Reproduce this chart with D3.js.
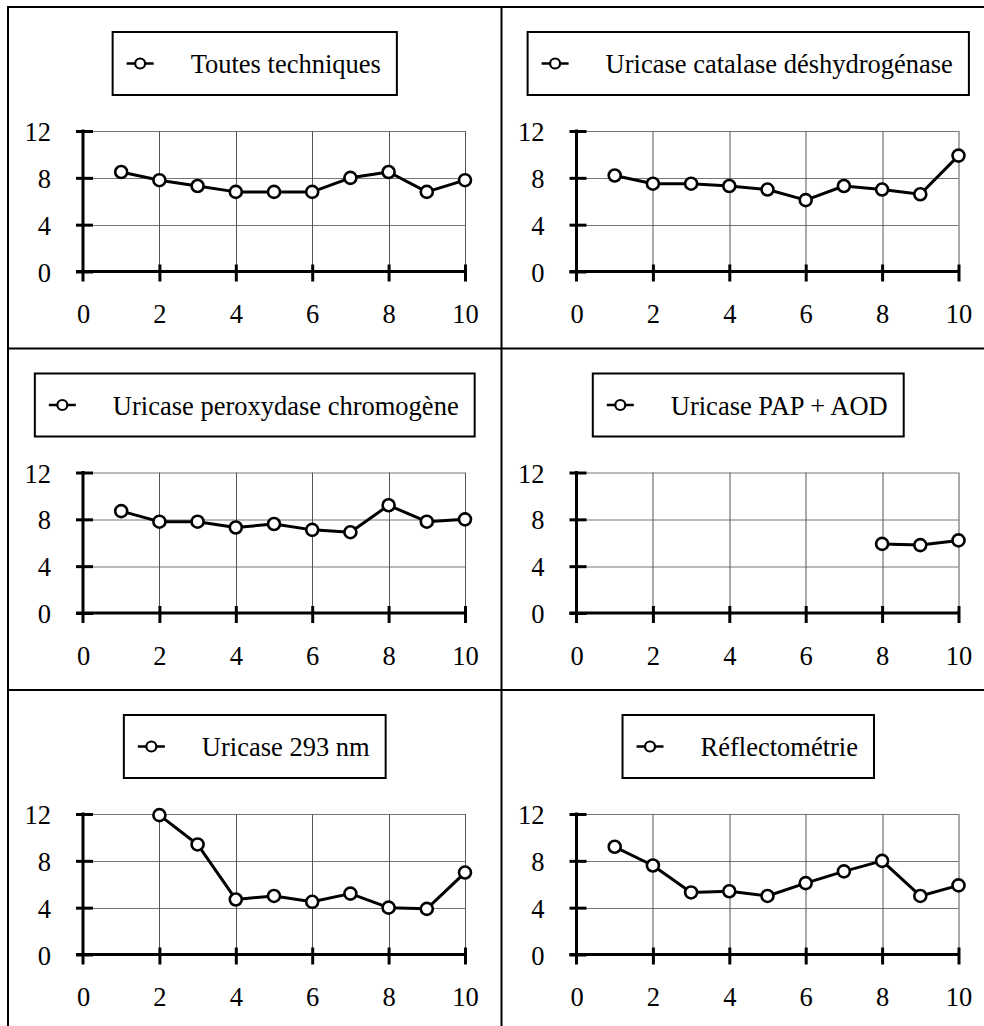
<!DOCTYPE html>
<html>
<head>
<meta charset="utf-8">
<script src="https://cdn.jsdelivr.net/npm/d3@7"></script>
<style>
  html, body { margin: 0; padding: 0; background: #fff; }
  svg { display: block; }
  svg text.serif { font-family: "Liberation Serif", "Times New Roman", Tinos, serif; }
</style>
</head>
<body>
<div id="chart"></div>
<script>
// ---------- data ----------
const sampleIndex = [1, 2, 3, 4, 5, 6, 7, 8, 9, 10];
const panelTitles = [
  "Toutes techniques",
  "Uricase catalase déshydrogénase",
  "Uricase peroxydase chromogène",
  "Uricase PAP + AOD",
  "Uricase 293 nm",
  "Réflectométrie"
];
const toutesTechniques  = [8.5, 7.8, 7.3, 6.8, 6.8, 6.8, 8.0, 8.5, 6.8, 7.8];
const uricaseCatalase   = [8.2, 7.5, 7.5, 7.3, 7.0, 6.1, 7.3, 7.0, 6.6, 9.9];
const uricasePeroxydase = [8.7, 7.8, 7.8, 7.3, 7.6, 7.1, 6.9, 9.2, 7.8, 8.0];
const uricasePapAod     = [null, null, null, null, null, null, null, 5.9, 5.8, 6.2];
const uricase293        = [null, 11.9, 9.4, 4.7, 5.0, 4.5, 5.2, 4.0, 3.9, 7.0];
const reflectometrie    = [9.2, 7.6, 5.3, 5.4, 5.0, 6.1, 7.1, 8.0, 5.0, 5.9];
const xTickValues = [0, 2, 4, 6, 8, 10];
const yTickValues = [0, 4, 8, 12];

const seriesList = [toutesTechniques, uricaseCatalase, uricasePeroxydase,
                    uricasePapAod, uricase293, reflectometrie];

// ---------- layout ----------
const W = 984, H = 1026;
const FONT = "Liberation Serif";
const FS = 26.5;
const colLeft = [8, 501.5];
const rowTop = [7, 348.5, 690];
const panelW = 493.5, panelH = 341.5;

const svg = d3.select("#chart").append("svg")
  .attr("width", W).attr("height", H);

// outer frame + dividers
svg.append("rect")
  .attr("x", colLeft[0]).attr("y", rowTop[0])
  .attr("width", panelW * 2).attr("height", panelH * 3 + 5)
  .attr("fill", "none").attr("stroke", "#000").attr("stroke-width", 2);
svg.append("line")
  .attr("x1", colLeft[1]).attr("x2", colLeft[1])
  .attr("y1", rowTop[0]).attr("y2", H + 10)
  .attr("stroke", "#000").attr("stroke-width", 2);
[rowTop[1], rowTop[2]].forEach(yy => {
  svg.append("line")
    .attr("x1", colLeft[0]).attr("x2", W + 10)
    .attr("y1", yy).attr("y2", yy)
    .attr("stroke", "#000").attr("stroke-width", 2);
});

seriesList.forEach((values, i) => {
  const left = colLeft[i % 2];
  const top = rowTop[Math.floor(i / 2)];
  const g = svg.append("g").attr("transform", `translate(${left},${top})`);

  const x = d3.scaleLinear().domain([0, 10]).range([75, 457]);
  const y = d3.scaleLinear().domain([0, 12]).range([264.5, 124]);

  // gridlines
  g.append("g").selectAll("line.h")
    .data(yTickValues.filter(v => v > 0)).join("line")
    .attr("x1", x(0)).attr("x2", x(10))
    .attr("y1", d => Math.round(y(d)) + 0.5).attr("y2", d => Math.round(y(d)) + 0.5)
    .attr("stroke", "#777").attr("stroke-width", 1);
  g.append("g").selectAll("line.v")
    .data(xTickValues.filter(v => v > 0)).join("line")
    .attr("x1", d => Math.round(x(d)) + 0.5).attr("x2", d => Math.round(x(d)) + 0.5)
    .attr("y1", y(0)).attr("y2", y(12))
    .attr("stroke", "#555").attr("stroke-width", 1);

  // y axis
  const ya = g.append("g").attr("transform", `translate(${x(0)},0)`)
    .call(d3.axisLeft(y).tickValues(yTickValues).tickSize(7).tickPadding(25)
      .tickFormat(d3.format("d")));
  ya.attr("font-family", FONT).attr("font-size", FS);
  ya.select(".domain").remove();
  ya.selectAll(".tick line").attr("x1", 10).attr("stroke", "#000").attr("stroke-width", 3);
  ya.selectAll(".tick text").attr("class", "serif").attr("font-family", FONT)
    .style("font-size", FS + "px").attr("fill", "#000").attr("dy", "0.36em");
  ya.append("line").attr("x1", 0).attr("x2", 0)
    .attr("y1", y(12) - 1.5).attr("y2", y(0) + 10)
    .attr("stroke", "#000").attr("stroke-width", 3);

  // x axis
  const xa = g.append("g").attr("transform", `translate(0,${y(0)})`)
    .call(d3.axisBottom(x).tickValues(xTickValues).tickSize(10).tickPadding(23)
      .tickFormat(d3.format("d")));
  xa.attr("font-family", FONT).attr("font-size", FS);
  xa.select(".domain").remove();
  xa.selectAll(".tick line").attr("y1", -7).attr("stroke", "#000").attr("stroke-width", 3)
    .filter(d => d === 0).remove();
  xa.selectAll(".tick text").attr("class", "serif").attr("font-family", FONT)
    .style("font-size", FS + "px").attr("fill", "#000");
  xa.append("line").attr("x1", x(0) - 7).attr("x2", x(10) + 1.5)
    .attr("y1", 0).attr("y2", 0)
    .attr("stroke", "#000").attr("stroke-width", 3);

  // data line + markers
  const pts = sampleIndex.map((s, k) => ({ s, v: values[k] }));
  const line = d3.line().defined(d => d.v != null).x(d => x(d.s)).y(d => y(d.v));
  g.append("path").datum(pts).attr("d", line)
    .attr("fill", "none").attr("stroke", "#000").attr("stroke-width", 3)
    .attr("stroke-linejoin", "round");
  g.append("g").selectAll("circle")
    .data(pts.filter(d => d.v != null)).join("circle")
    .attr("cx", d => x(d.s)).attr("cy", d => y(d.v)).attr("r", 6)
    .attr("fill", "#fff").attr("stroke", "#000").attr("stroke-width", 2.6);

  // legend box
  const lg = g.append("g");
  const txt = lg.append("text").attr("class", "serif").text(panelTitles[i])
    .attr("font-family", FONT).style("font-size", FS + "px").attr("fill", "#000");
  const tw = txt.node().getComputedTextLength();
  const boxW = 78 + tw + 16;
  const boxX = panelW / 2 - boxW / 2;
  const boxY = 25, boxH = 63;
  lg.insert("rect", "text").attr("x", boxX).attr("y", boxY)
    .attr("width", boxW).attr("height", boxH)
    .attr("fill", "#fff").attr("stroke", "#000").attr("stroke-width", 2);
  txt.attr("x", boxX + 78).attr("y", boxY + 41);
  const cy = boxY + boxH / 2;
  lg.append("line").attr("x1", boxX + 14).attr("x2", boxX + 41)
    .attr("y1", cy).attr("y2", cy).attr("stroke", "#000").attr("stroke-width", 2.5);
  lg.append("circle").attr("cx", boxX + 27.5).attr("cy", cy).attr("r", 5)
    .attr("fill", "#fff").attr("stroke", "#000").attr("stroke-width", 2.2);
});
</script>
</body>
</html>
